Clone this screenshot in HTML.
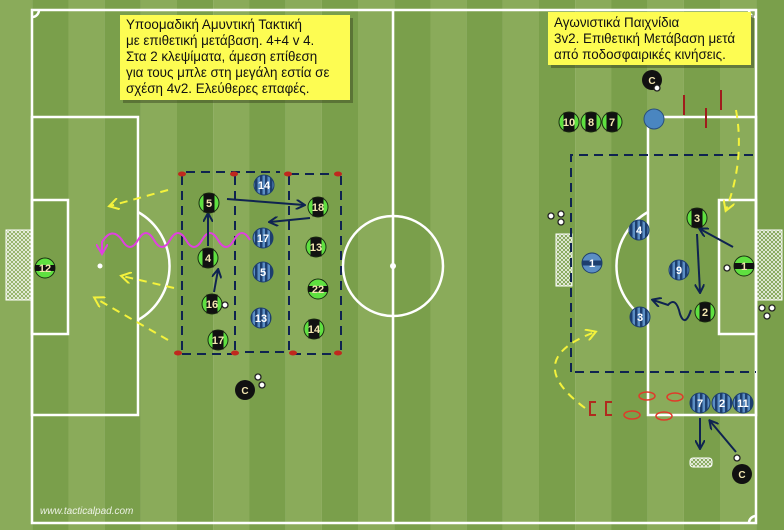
<!DOCTYPE html>
<html><head><meta charset="utf-8"><style>
html,body{margin:0;padding:0;width:784px;height:530px;overflow:hidden;}
svg{display:block;font-family:"Liberation Sans","DejaVu Sans",sans-serif;}
</style></head><body>
<svg id="pitch" width="784" height="530" viewBox="0 0 784 530" xmlns="http://www.w3.org/2000/svg">
<defs>
<pattern id="net" width="4" height="4" patternUnits="userSpaceOnUse"><path d="M0 0L4 4M4 0L0 4" stroke="#fff" stroke-width="0.7"/></pattern>
<pattern id="bluestripe" width="5" height="5" patternUnits="userSpaceOnUse"><rect width="5" height="5" fill="#5b8ec4"/><rect width="2.5" height="5" fill="#1d3e6e"/></pattern>
<marker id="arrN" markerWidth="10" markerHeight="10" refX="8" refY="5" orient="auto" markerUnits="userSpaceOnUse"><path d="M0 0L9 5L0 10" fill="none" stroke="#0f2350" stroke-width="2"/></marker>
<marker id="arrY" markerWidth="12" markerHeight="12" refX="9" refY="6" orient="auto" markerUnits="userSpaceOnUse"><path d="M0 0L10 6L0 12" fill="none" stroke="#f4f23c" stroke-width="2"/></marker>
<marker id="arrM" markerWidth="12" markerHeight="12" refX="9" refY="6" orient="auto" markerUnits="userSpaceOnUse"><path d="M0 0L10 6L0 12" fill="none" stroke="#e040e0" stroke-width="2"/></marker>
</defs>
<g id="stripes"></g>
<g fill="none" stroke="#fff" stroke-width="2.5">
<rect x="32" y="10" width="724" height="513"/>
<line x1="393" y1="10" x2="393" y2="523"/>
<circle cx="393" cy="266" r="50"/>
<rect x="32" y="117" width="106" height="298"/>
<rect x="32" y="200" width="36" height="134"/>
<path d="M138 212 A62 62 0 0 1 138 320"/>
<rect x="648" y="117" width="108" height="298"/>
<rect x="719" y="200" width="37" height="134"/>
<path d="M648 212 A62 62 0 0 0 648 320"/>
<path d="M32 17 A7 7 0 0 0 39 10"/><path d="M749 10 A7 7 0 0 0 756 17"/><path d="M749 523 A7 7 0 0 1 756 516"/>
</g>
<circle cx="393" cy="266" r="3" fill="#fff"/>
<circle cx="100" cy="266" r="2.5" fill="#fff"/>
<rect x="6" y="230" width="26" height="70" fill="url(#net)" stroke="#fff"/>
<rect x="757" y="230" width="25" height="70" fill="url(#net)" stroke="#fff"/>
<rect x="556" y="234" width="16" height="52" fill="url(#net)" stroke="#fff"/>
<rect x="690" y="458" width="22" height="9" rx="3" fill="url(#net)" stroke="#fff"/>

<g fill="none" stroke="#0f2350" stroke-width="2" stroke-dasharray="9,6">
<path d="M182 176 L182 354 M235 176 L235 354 M186 172 L280 172 M289 176 L289 354 M341 176 L341 354 M290 174 L338 174 M182 354 L232 354 M245 352 L288 352 M292 354 L338 354"/>
<path d="M571 372 L571 155 L756 155 M575 372 L756 372"/>
</g>
<g fill="#c0281e">
<ellipse cx="182" cy="174" rx="4" ry="2.5"/><ellipse cx="234" cy="174" rx="4" ry="2.5"/><ellipse cx="288" cy="174" rx="4" ry="2.5"/><ellipse cx="338" cy="174" rx="4" ry="2.5"/>
<ellipse cx="178" cy="353" rx="4" ry="2.5"/><ellipse cx="235" cy="353" rx="4" ry="2.5"/><ellipse cx="293" cy="353" rx="4" ry="2.5"/><ellipse cx="338" cy="353" rx="4" ry="2.5"/>
</g>
<g stroke="#a01c1c" stroke-width="2">
<line x1="684" y1="95" x2="684" y2="115"/><line x1="721" y1="90" x2="721" y2="110"/><line x1="706" y1="108" x2="706" y2="128"/>
</g>
<g fill="none" stroke="#e03a2a" stroke-width="1.5">
<ellipse cx="647" cy="396" rx="8" ry="4"/><ellipse cx="675" cy="397" rx="8" ry="4"/><ellipse cx="632" cy="415" rx="8" ry="4"/><ellipse cx="664" cy="416" rx="8" ry="4"/>
</g>
<g fill="none" stroke="#b02a1e" stroke-width="2">
<path d="M596 402 L590 402 L590 415 L596 415"/><path d="M612 402 L606 402 L606 415 L612 415"/>
</g>
<g fill="none">
<path d="M168 190 L110 206" stroke="#f4f23c" stroke-width="2" stroke-dasharray="8,6" marker-end="url(#arrY)"/>
<path d="M174 288 L122 276" stroke="#f4f23c" stroke-width="2" stroke-dasharray="8,6" marker-end="url(#arrY)"/>
<path d="M168 340 L95 298" stroke="#f4f23c" stroke-width="2" stroke-dasharray="8,6" marker-end="url(#arrY)"/>
<path d="M736 110 Q745 160 726 210" stroke="#f4f23c" stroke-width="2" stroke-dasharray="8,6" marker-end="url(#arrY)"/>
<path d="M585 408 Q520 360 595 332" stroke="#f4f23c" stroke-width="2" stroke-dasharray="8,6" marker-end="url(#arrY)"/>
<path d="M250 240 q-8 -14 -16 0 q-8 14 -16 0 q-8 -14 -16 0 q-8 14 -16 0 q-8 -14 -16 0 q-8 14 -16 0 q-8 -14 -16 0 q-8 14 -16 0 q-10 -14 -20 2 L102 253" stroke="#e040e0" stroke-width="2" marker-end="url(#arrM)"/>
<path d="M208 246 L208 214" stroke="#0f2350" stroke-width="2" marker-end="url(#arrN)"/>
<path d="M214 292 L218 270" stroke="#0f2350" stroke-width="2" marker-end="url(#arrN)"/>
<path d="M227 199 L304 205" stroke="#0f2350" stroke-width="2" marker-end="url(#arrN)"/>
<path d="M310 218 L270 222" stroke="#0f2350" stroke-width="2" marker-end="url(#arrN)"/>
<path d="M733 247 L700 229" stroke="#0f2350" stroke-width="2" marker-end="url(#arrN)"/>
<path d="M697 234 L700 292" stroke="#0f2350" stroke-width="2" marker-end="url(#arrN)"/>
<path d="M691 310 Q685 328 680 314 Q676 296 668 305 L653 300" stroke="#0f2350" stroke-width="2" marker-end="url(#arrN)"/>
<path d="M700 418 L700 448" stroke="#0f2350" stroke-width="2" marker-end="url(#arrN)"/>
<path d="M736 452 L710 421" stroke="#0f2350" stroke-width="2" marker-end="url(#arrN)"/>
</g>
<g id="tokens"></g>
<g>
<rect x="123" y="18" width="230" height="85" fill="#3b4a22" opacity="0.5"/>
<rect x="120" y="15" width="230" height="85" fill="#fdfc52"/>
<text x="126" y="29" font-size="13.4" fill="#111"><tspan x="126" dy="0">Υποομαδική Αμυντική Τακτική</tspan><tspan x="126" dy="16">με επιθετική μετάβαση. 4+4 v 4.</tspan><tspan x="126" dy="16">Στα 2 κλεψίματα, άμεση επίθεση</tspan><tspan x="126" dy="16">για τους μπλε στη μεγάλη εστία σε</tspan><tspan x="126" dy="16">σχέση 4v2. Ελεύθερες επαφές.</tspan></text>
</g>
<g>
<rect x="551" y="15" width="203" height="53" fill="#3b4a22" opacity="0.5"/>
<rect x="548" y="12" width="203" height="53" fill="#fdfc52"/>
<text x="554" y="27" font-size="13.4" fill="#111"><tspan x="554" dy="0">Αγωνιστικά Παιχνίδια</tspan><tspan x="554" dy="16">3v2. Επιθετική Μετάβαση μετά</tspan><tspan x="554" dy="16">από ποδοσφαιρικές κινήσεις.</tspan></text>
</g>
<text x="40" y="514" font-size="10" font-style="italic" fill="#fff" opacity="0.85">www.tacticalpad.com</text>
</svg>
<script>
const NS='http://www.w3.org/2000/svg';
const st=document.getElementById('stripes');
for(let i=0;i<23;i++){const r=document.createElementNS(NS,'rect');
r.setAttribute('x',-4+i*36.2);r.setAttribute('y',0);r.setAttribute('width',36.3);r.setAttribute('height',530);
r.setAttribute('fill',i%2===0?'#8aab5a':'#7a9f4b');


st.appendChild(r);}
const tk=document.getElementById('tokens');
function el(t,a){const e=document.createElementNS(NS,t);for(const k in a)e.setAttribute(k,a[k]);return e;}
function player(x,y,n,type){
 const g=el('g',{});
 
 
 const r=10;
 if(type==='green'){
  g.appendChild(el('circle',{cx:x,cy:y,r:r,fill:'#5fe040',stroke:'#1a3010','stroke-width':1}));
  g.appendChild(el('rect',{x:x-5.5,y:y-9.5,width:11,height:19,fill:'#111'}));
 }else if(type==='keeper'){
  g.appendChild(el('circle',{cx:x,cy:y,r:r,fill:'#5fe040',stroke:'#1a3010','stroke-width':1}));
  g.appendChild(el('rect',{x:x-10,y:y-3,width:20,height:6,fill:'#111'}));
 }else if(type==='blue'){
  g.appendChild(el('circle',{cx:x,cy:y,r:r,fill:'url(#bluestripe)',stroke:'#1d3e6e','stroke-width':1}));
 }else if(type==='bluekeeper'){
  g.appendChild(el('circle',{cx:x,cy:y,r:r,fill:'#5b8ec4',stroke:'#1d3e6e','stroke-width':1}));
  g.appendChild(el('rect',{x:x-10,y:y-2.5,width:20,height:5,fill:'#1d3e6e'}));
 }else if(type==='coach'){
  g.appendChild(el('circle',{cx:x,cy:y,r:r,fill:'#111'}));
 }
 const t=el('text',{x:x,y:y+4,'text-anchor':'middle','font-size':type==='coach'?10:11,'font-weight':'bold',fill:type==='blue'||type==='bluekeeper'?'#fff':'#f3e6b0'});
 t.textContent=n; g.appendChild(t); tk.appendChild(g);
}
function ball(x,y){const c=el('circle',{cx:x,cy:y,r:3,fill:'#fff',stroke:'#222','stroke-width':1.3});
 
 
 tk.appendChild(c);}
[[209,203,'5'],[208,258,'4'],[212,304,'16'],[218,340,'17'],[318,207,'18'],[316,247,'13'],[314,329,'14'],[569,122,'10'],[591,122,'8'],[612,122,'7'],[697,218,'3'],[705,312,'2']].forEach(p=>player(p[0],p[1],p[2],'green'));
player(318,289,'22','keeper');player(45,268,'12','keeper');player(744,266,'1','keeper');
[[264,185,'14'],[263,238,'17'],[263,272,'5'],[261,318,'13'],[639,230,'4'],[679,270,'9'],[640,317,'3'],[700,403,'7'],[722,403,'2'],[743,403,'11']].forEach(p=>player(p[0],p[1],p[2],'blue'));
player(592,263,'1','bluekeeper');
player(245,390,'C','coach');player(652,80,'C','coach');player(742,474,'C','coach');
const big=el('circle',{cx:654,cy:119,r:10,fill:'#4a86c0',stroke:'#2a4f7a'});


tk.appendChild(big);
[[225,305],[258,377],[262,385],[551,216],[561,214],[561,222],[762,308],[772,308],[767,316],[737,458],[657,88],[727,268]].forEach(b=>ball(b[0],b[1]));
</script>
</body></html>
